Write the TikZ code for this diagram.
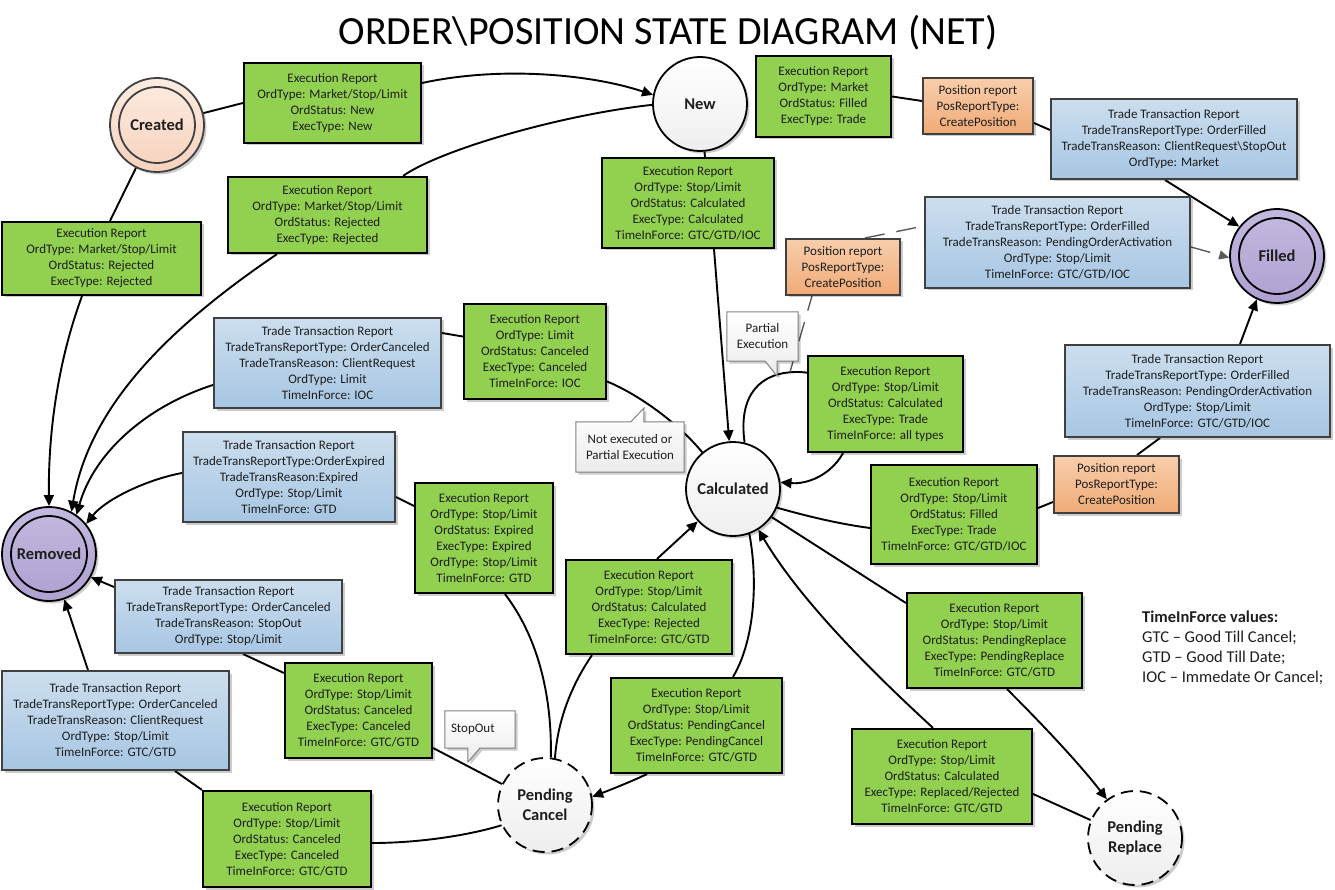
\documentclass[tikz,border=0pt]{standalone}
\usepackage{fontspec}
\setmainfont{Carlito}
\usetikzlibrary{arrows.meta,shadows}
\pgfdeclarelayer{bg}
\pgfdeclarelayer{mid}
\pgfsetlayers{bg,mid,main}
\definecolor{grn}{RGB}{146,208,80}
\definecolor{blu1}{RGB}{204,222,238}
\definecolor{blu2}{RGB}{167,198,227}
\definecolor{or1}{RGB}{248,206,172}
\definecolor{or2}{RGB}{240,170,118}
\definecolor{pch1}{RGB}{253,236,225}
\definecolor{pch2}{RGB}{246,210,188}
\definecolor{lav1}{RGB}{196,185,224}
\definecolor{lav2}{RGB}{174,160,208}
\definecolor{wht2}{RGB}{238,238,238}
\definecolor{bgray}{RGB}{64,64,64}
\definecolor{txt}{RGB}{30,30,30}
\definecolor{dgray}{RGB}{90,90,90}
\definecolor{cgray}{RGB}{236,236,236}
\newcommand{\bxf}{\fontsize{13}{16}\selectfont}
\newcommand{\stf}{\fontsize{16.5}{20}\selectfont\bfseries}
\tikzset{
  shd/.style={drop shadow={shadow xshift=2.5pt,shadow yshift=-2.5pt,opacity=0.2,fill=black}},
  rbox/.style={rectangle,inner sep=0pt,align=center,font=\bxf,text=txt,shd},
  gbox/.style={rbox,fill=grn,draw=black,line width=2.2pt},
  bbox/.style={rbox,top color=blu1,bottom color=blu2,draw=bgray,line width=2pt},
  obox/.style={rbox,top color=or1,bottom color=or2,draw=bgray,line width=2pt},
  stnode/.style={circle,inner sep=0pt,minimum size=94pt,line width=1.8pt,draw=black,align=center,font=\stf,text=txt,shd},
  plainst/.style={stnode,top color=white,bottom color=wht2},
  pend/.style={plainst,dash pattern=on 12pt off 7pt},
  incirc/.style={circle,inner sep=0pt,minimum size=76pt,line width=1.8pt,draw=black},
  conn/.style={draw=black,line width=1.9pt},
  arr/.style={conn,-{Triangle[length=11pt,width=10pt]}},
  dconn/.style={draw=dgray,line width=1.4pt,dash pattern=on 20pt off 12pt},
  callo/.style={draw=gray,line width=1pt,top color=white,bottom color=cgray,shd},
  ctext/.style={inner sep=0pt,align=center,font=\bxf,text=txt},
}
\begin{document}
\begin{tikzpicture}[x=1pt,y=-1pt]
\useasboundingbox (0,0) rectangle (1335,890);

% title
\node[anchor=base,font=\fontsize{40}{48}\selectfont,text=black] (title) at (668,45) {ORDER\textbackslash POSITION STATE DIAGRAM (NET)};

% states
\node[stnode,top color=pch1,bottom color=pch2,draw=bgray] (Created) at (157,125) {Created};
\node[incirc,draw=bgray] (CreatedIn) at (Created.center) {};
\node[plainst] (New) at (700,104) {New};
\node[stnode,top color=lav1,bottom color=lav2] (Filled) at (1277,256) {Filled};
\node[incirc] (FilledIn) at (Filled.center) {};
\node[stnode,top color=lav1,bottom color=lav2] (Removed) at (49,554) {Removed};
\node[incirc] (RemovedIn) at (Removed.center) {};
\node[plainst] (Calc) at (733,489) {Calculated};
\node[pend] (PC) at (545,805) {Pending\\Cancel};
\node[pend] (PR) at (1135,838) {Pending\\Replace};

% boxes
\node[gbox,minimum width=177pt,minimum height=80pt] (G1) at (332.5,103) {Execution Report\\OrdType: Market/Stop/Limit\\OrdStatus: New\\ExecType: New};
\node[gbox,minimum width=199pt,minimum height=73pt] (G2) at (101.5,258.5) {Execution Report\\OrdType: Market/Stop/Limit\\OrdStatus: Rejected\\ExecType: Rejected};
\node[gbox,minimum width=199pt,minimum height=76pt] (G3) at (327.5,215) {Execution Report\\OrdType: Market/Stop/Limit\\OrdStatus: Rejected\\ExecType: Rejected};
\node[gbox,minimum width=135pt,minimum height=81pt] (G4) at (823.5,96.5) {Execution Report\\OrdType: Market\\OrdStatus: Filled\\ExecType: Trade};
\node[obox,minimum width=110pt,minimum height=56pt] (O1) at (978,106) {Position report\\PosReportType:\\CreatePosition};
\node[bbox,minimum width=246pt,minimum height=80pt] (B1) at (1174,139) {Trade Transaction Report\\TradeTransReportType: OrderFilled\\TradeTransReason: ClientRequest\textbackslash StopOut\\OrdType: Market};
\node[gbox,minimum width=172pt,minimum height=90pt] (G5) at (688,203) {Execution Report\\OrdType: Stop/Limit\\OrdStatus: Calculated\\ExecType: Calculated\\TimeInForce: GTC/GTD/IOC};
\node[obox,minimum width=114pt,minimum height=56pt] (O2) at (843,267) {Position report\\PosReportType:\\CreatePosition};
\node[bbox,minimum width=265pt,minimum height=91pt] (B2) at (1057.5,242.5) {Trade Transaction Report\\TradeTransReportType: OrderFilled\\TradeTransReason: PendingOrderActivation\\OrdType: Stop/Limit\\TimeInForce: GTC/GTD/IOC};
\node[gbox,minimum width=142pt,minimum height=95pt] (G6) at (535,351.5) {Execution Report\\OrdType: Limit\\OrdStatus: Canceled\\ExecType: Canceled\\TimeInForce: IOC};
\node[bbox,minimum width=227pt,minimum height=90pt] (B3) at (327.5,363) {Trade Transaction Report\\TradeTransReportType: OrderCanceled\\TradeTransReason: ClientRequest\\OrdType: Limit\\TimeInForce: IOC};
\node[bbox,minimum width=212pt,minimum height=90pt] (B4) at (289,477) {Trade Transaction Report\\TradeTransReportType:OrderExpired\\TradeTransReason:Expired\\OrdType: Stop/Limit\\TimeInForce: GTD};
\node[gbox,minimum width=138pt,minimum height=110pt] (G7) at (484,538) {Execution Report\\OrdType: Stop/Limit\\OrdStatus: Expired\\ExecType: Expired\\OrdType: Stop/Limit\\TimeInForce: GTD};
\node[gbox,minimum width=155pt,minimum height=96pt] (G8) at (885.5,404) {Execution Report\\OrdType: Stop/Limit\\OrdStatus: Calculated\\ExecType: Trade\\TimeInForce: all types};
\node[gbox,minimum width=166pt,minimum height=99pt] (G9) at (954,514.5) {Execution Report\\OrdType: Stop/Limit\\OrdStatus: Filled\\ExecType: Trade\\TimeInForce: GTC/GTD/IOC};
\node[obox,minimum width=125pt,minimum height=57pt] (O3) at (1116.5,484.5) {Position report\\PosReportType:\\CreatePosition};
\node[bbox,minimum width=265pt,minimum height=92pt] (B5) at (1197.5,391) {Trade Transaction Report\\TradeTransReportType: OrderFilled\\TradeTransReason: PendingOrderActivation\\OrdType: Stop/Limit\\TimeInForce: GTC/GTD/IOC};
\node[gbox,minimum width=175pt,minimum height=95pt] (G10) at (994.5,640.5) {Execution Report\\OrdType: Stop/Limit\\OrdStatus: PendingReplace\\ExecType: PendingReplace\\TimeInForce: GTC/GTD};
\node[gbox,minimum width=180pt,minimum height=95pt] (G11) at (942,776.5) {Execution Report\\OrdType: Stop/Limit\\OrdStatus: Calculated\\ExecType: Replaced/Rejected\\TimeInForce: GTC/GTD};
\node[gbox,minimum width=166pt,minimum height=94pt] (G12) at (649,607) {Execution Report\\OrdType: Stop/Limit\\OrdStatus: Calculated\\ExecType: Rejected\\TimeInForce: GTC/GTD};
\node[gbox,minimum width=171pt,minimum height=95pt] (G13) at (696.5,725.5) {Execution Report\\OrdType: Stop/Limit\\OrdStatus: PendingCancel\\ExecType: PendingCancel\\TimeInForce: GTC/GTD};
\node[bbox,minimum width=227pt,minimum height=73pt] (B6) at (228.5,616.5) {Trade Transaction Report\\TradeTransReportType: OrderCanceled\\TradeTransReason: StopOut\\OrdType: Stop/Limit};
\node[bbox,minimum width=227pt,minimum height=99pt] (B7) at (115.5,720.5) {Trade Transaction Report\\TradeTransReportType: OrderCanceled\\TradeTransReason: ClientRequest\\OrdType: Stop/Limit\\TimeInForce: GTC/GTD};
\node[gbox,minimum width=147pt,minimum height=95pt] (G14) at (358.5,710.5) {Execution Report\\OrdType: Stop/Limit\\OrdStatus: Canceled\\ExecType: Canceled\\TimeInForce: GTC/GTD};
\node[gbox,minimum width=168pt,minimum height=96pt] (G15) at (287,839) {Execution Report\\OrdType: Stop/Limit\\OrdStatus: Canceled\\ExecType: Canceled\\TimeInForce: GTC/GTD};

% callouts
\node[ctext,minimum width=71pt,minimum height=49pt] (PE) at (762.5,336.5) {Partial\\Execution};
\coordinate (PEtip) at (777,376);
\node[ctext,minimum width=108pt,minimum height=50pt] (NE) at (630,447) {Not executed or\\Partial Execution};
\coordinate (NEtip) at (644,408);
\node[ctext,minimum width=70pt,minimum height=37pt,text width=58pt,align=left] (SO) at (480,729.5) {StopOut};
\coordinate (SOtip) at (468,762);

% legend
\node[anchor=north west,align=left,inner sep=0pt,font=\fontsize{16.5}{20}\selectfont,text=txt] (TIF) at (1142,611) {\textbf{TimeInForce values:}\\GTC -- Good Till Cancel;\\GTD -- Good Till Date;\\IOC -- Immedate Or Cancel;};

\begin{pgfonlayer}{mid}
\path[callo] (PE.north west) -- (PE.north east) -- (PE.south east) -- ([xshift=-21pt]PE.south east) -- (PEtip) -- ([xshift=-33pt]PE.south east) -- (PE.south west) -- cycle;
\path[callo] (NE.south west) -- (NE.north west) -- ([xshift=55pt]NE.north west) -- (NEtip) -- ([xshift=68pt]NE.north west) -- (NE.north east) -- (NE.south east) -- cycle;
\path[callo] (SO.north west) -- (SO.north east) -- (SO.south east) -- ([xshift=35pt]SO.south west) -- (SOtip) -- ([xshift=23pt]SO.south west) -- (SO.south west) -- cycle;
\end{pgfonlayer}

\begin{pgfonlayer}{bg}
\draw[conn] (Created) -- (G1.west);
\draw[arr] ([yshift=20pt]G1.east) .. controls (500,66) and (590,74) .. (New.169);
\draw[conn] (New.181) .. controls (560,115) and (440,150) .. ([xshift=-25pt]G3.north east);
\draw[arr] ([xshift=-50.5pt]G3.south) .. controls (180,320) and (90,400) .. (Removed.62);
\draw[conn] (Created) -- ([xshift=8.5pt]G2.north);
\draw[arr] ([xshift=-19.5pt]G2.south) .. controls (62,350) and (48,420) .. (Removed.north);
\draw[conn] (New) -- ([xshift=17pt]G5.north);
\draw[arr] ([xshift=26pt]G5.south) -- (Calc);
\draw[conn] ([yshift=-30pt]G6.east) .. controls (640,395) and (680,425) .. (Calc.130);
\draw[conn] ([yshift=15pt]G6.west) -- ([yshift=30pt]B3.east);
\draw[arr] ([yshift=-22pt]B3.west) .. controls (150,405) and (95,450) .. (Removed.55);
\draw[arr] ([yshift=4pt]B4.west) .. controls (145,480) and (105,500) .. (Removed.39);
\draw[conn] ([yshift=32pt]G7.west) -- ([yshift=-20pt]B4.east);
\draw[conn] (PC.83) .. controls (552,700) and (540,640) .. ([xshift=21pt]G7.south);
\draw[conn] (PC.78) .. controls (558,715) and (575,680) .. ([xshift=-57pt]G12.south);
\draw[arr] ([xshift=8pt]G12.north) -- (Calc);
\draw[conn] (Calc.-70) .. controls (758,580) and (755,640) .. ([xshift=36.5pt]G13.north);
\draw[arr] ([xshift=-49.5pt]G13.south) .. controls (630,782) and (610,790) .. (PC.10);
\draw[conn] (PC.154) -- ([yshift=-37.5pt]G14.east);
\draw[conn] ([xshift=14.5pt]B6.south) -- ([yshift=37.5pt]G14.west);
\draw[arr] ([yshift=29.5pt]B6.west) -- (Removed.-29);
\draw[conn] (PC.205) .. controls (470,835) and (420,843) .. ([yshift=-4pt]G15.east);
\draw[conn] (G15.north west) -- ([xshift=59.5pt]B7.south);
\draw[arr] ([xshift=-27.5pt]B7.north) -- (Removed);
\draw[conn] (Calc.-23) .. controls (810,517) and (840,524) .. ([yshift=-13.5pt]G9.west);
\draw[conn] ([yshift=6.5pt]G9.east) -- ([yshift=-17.5pt]O3.west);
\draw[conn] ([xshift=20.5pt]O3.north) -- ([xshift=-37.5pt]B5.south);
\draw[arr] ([xshift=42.5pt]B5.north) -- (Filled.-115);
\draw[conn] (Calc.-36) -- ([yshift=37.5pt]G10.west);
\draw[arr] ([xshift=12.5pt]G10.south) .. controls (1040,722) and (1078,762) .. (PR.126);
\draw[conn] (PR.158) -- ([yshift=-17.5pt]G11.east);
\draw[arr] ([xshift=-9pt]G11.north) .. controls (870,670) and (800,600) .. (Calc.-58);
\draw[conn] (G4.east) -- ([yshift=5pt]O1.west);
\draw[conn] ([yshift=-17pt]O1.east) -- ([yshift=9pt]B1.west);
\draw[arr] ([xshift=-9pt]B1.south) -- (Filled.142);
% self loop on Calculated
\draw[arr] (Calc.76) .. controls (738,395) and (760,372) .. (797,372) .. controls (835,372) and (852,400) .. (850,428) .. controls (848,465) and (815,485) .. (Calc.8);
\coordinate (looptop) at (790,372);
\draw[dconn] (looptop) -- ([xshift=-31pt]O2.south);
\draw[dconn] ([xshift=22pt]O2.north) -- ([yshift=16.5pt]B2.west);
\draw[dconn,-{Triangle[length=10pt,width=9pt]}] ([yshift=-4.5pt]B2.east) -- (Filled.182);
\end{pgfonlayer}
\end{tikzpicture}
\end{document}
